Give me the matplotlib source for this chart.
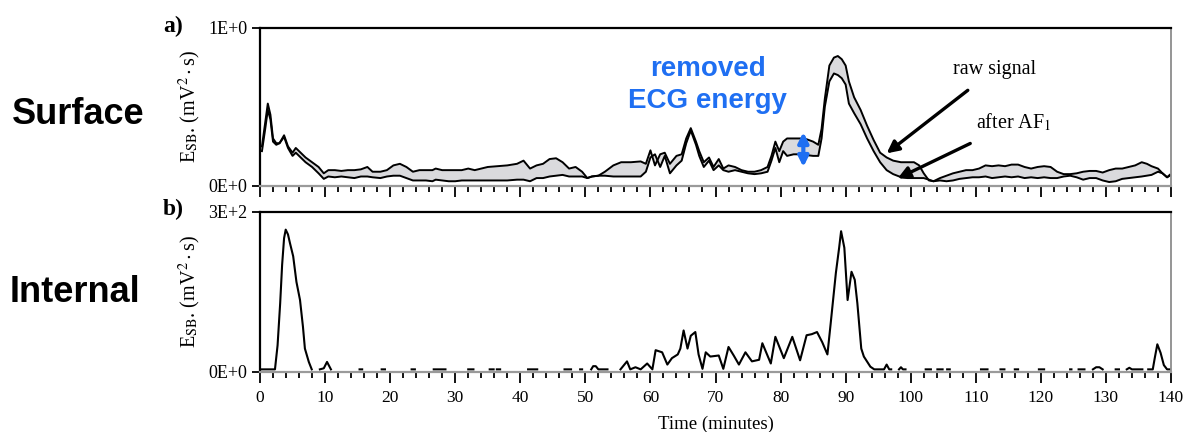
import numpy as np
import matplotlib
matplotlib.use("Agg")
import matplotlib.pyplot as plt
from matplotlib.ticker import MultipleLocator, FixedLocator

plt.rcParams['font.family'] = ['Liberation Serif', 'DejaVu Serif']
plt.rcParams['mathtext.fontset'] = 'stix'

nan = np.nan

# ---- surface ECG: sub-band energy before (raw) and after AF1 filtering ----
t_surf = [0.3, 0.8, 1.2, 1.6, 2.0, 2.5, 3.0, 3.7, 4.3, 5.0, 5.5, 6.0, 7.0, 8.0, 9.0, 9.8,
          10.5, 11.5, 12.5, 13.5, 14.5, 15.5, 16.5, 17.3, 18.5, 19.5, 20.5, 21.5, 22.5,
          23.5, 24.5, 25.5, 26.5, 27.0, 28.0, 29.0, 30.0, 31.0, 32.0, 33.0, 34.0, 35.0,
          36.5, 38.0, 39.5, 40.5, 41.5, 42.5, 43.5, 44.5, 45.5, 46.5, 47.5, 48.5, 49.5,
          50.3, 51.0, 52.0, 53.0, 54.3, 55.5, 57.0, 58.5, 59.3, 60.0, 60.7, 61.5, 62.2,
          63.0, 64.0, 64.8, 65.5, 66.2, 67.0, 67.5, 68.2, 69.0, 69.7, 70.5, 71.2, 72.0,
          73.0, 74.0, 75.0, 76.0, 77.0, 78.0, 78.6, 79.2, 79.8, 80.4, 81.0, 82.0, 83.0,
          84.0, 85.0, 85.8, 86.3, 86.8, 87.5, 88.2, 88.8, 89.4, 90.0, 90.5, 91.3, 92.3,
          93.3, 94.3, 95.3, 96.3, 97.3, 98.5, 99.5, 100.5, 101.3, 102.0, 102.8, 103.5,
          104.5, 105.5, 106.5, 107.5, 108.5, 109.5, 110.5, 111.5, 112.5, 113.5, 114.5,
          115.5, 116.5, 117.5, 118.5, 119.5, 120.5, 121.5, 122.5, 123.5, 124.5, 125.5,
          126.5, 127.5, 128.5, 129.5, 130.5, 131.5, 132.5, 133.5, 134.5, 135.5, 136.3,
          137.0, 138.0, 138.7, 139.4, 139.8]

raw_signal = [0.25, 0.40, 0.52, 0.45, 0.30, 0.27, 0.27, 0.32, 0.25, 0.21, 0.24, 0.22, 0.18,
              0.15, 0.12, 0.08, 0.10, 0.10, 0.095, 0.10, 0.10, 0.105, 0.12, 0.09, 0.09, 0.10,
              0.13, 0.14, 0.12, 0.09, 0.10, 0.10, 0.10, 0.11, 0.10, 0.10, 0.10, 0.10, 0.11,
              0.10, 0.11, 0.12, 0.125, 0.13, 0.14, 0.16, 0.11, 0.13, 0.14, 0.17, 0.175, 0.15,
              0.11, 0.12, 0.09, 0.05, 0.06, 0.065, 0.09, 0.13, 0.15, 0.15, 0.155, 0.14, 0.225,
              0.13, 0.20, 0.21, 0.14, 0.19, 0.20, 0.30, 0.365, 0.28, 0.22, 0.15, 0.18, 0.12,
              0.17, 0.11, 0.13, 0.12, 0.10, 0.09, 0.09, 0.10, 0.12, 0.19, 0.28, 0.22, 0.28,
              0.30, 0.30, 0.30, 0.295, 0.28, 0.26, 0.36, 0.55, 0.76, 0.81, 0.82, 0.80, 0.76,
              0.66, 0.56, 0.48, 0.38, 0.29, 0.21, 0.18, 0.16, 0.15, 0.15, 0.15, 0.13, 0.08,
              0.035, 0.03, 0.05, 0.065, 0.08, 0.09, 0.10, 0.10, 0.11, 0.13, 0.125, 0.13,
              0.125, 0.135, 0.135, 0.12, 0.11, 0.12, 0.125, 0.12, 0.09, 0.075, 0.075, 0.08,
              0.09, 0.095, 0.095, 0.085, 0.10, 0.11, 0.11, 0.12, 0.13, 0.15, 0.14, 0.125,
              0.11, 0.08, 0.055, 0.07]

after_af1 = [0.22, 0.36, 0.48, 0.42, 0.28, 0.26, 0.27, 0.31, 0.24, 0.19, 0.21, 0.19, 0.15,
             0.12, 0.08, 0.045, 0.06, 0.055, 0.06, 0.055, 0.05, 0.06, 0.06, 0.055, 0.05, 0.06,
             0.065, 0.065, 0.05, 0.035, 0.035, 0.035, 0.03, 0.04, 0.035, 0.03, 0.03, 0.035,
             0.035, 0.035, 0.035, 0.035, 0.035, 0.035, 0.04, 0.04, 0.03, 0.05, 0.05, 0.06,
             0.065, 0.07, 0.06, 0.06, 0.06, 0.05, 0.06, 0.065, 0.065, 0.06, 0.06, 0.06, 0.06,
             0.09, 0.18, 0.20, 0.12, 0.19, 0.08, 0.13, 0.16, 0.27, 0.35, 0.26, 0.19, 0.12,
             0.16, 0.10, 0.13, 0.10, 0.09, 0.10, 0.09, 0.08, 0.075, 0.08, 0.09, 0.16, 0.24,
             0.15, 0.22, 0.19, 0.20, 0.20, 0.195, 0.19, 0.19, 0.30, 0.50, 0.66, 0.71, 0.70,
             0.68, 0.64, 0.52, 0.46, 0.39, 0.30, 0.22, 0.15, 0.10, 0.075, 0.056, 0.05, 0.05,
             0.05, 0.05, 0.04, 0.03, 0.035, 0.03, 0.035, 0.045, 0.05, 0.055, 0.055, 0.06,
             0.05, 0.055, 0.06, 0.055, 0.06, 0.05, 0.055, 0.05, 0.055, 0.05, 0.05, 0.06,
             0.065, 0.055, 0.04, 0.05, 0.05, 0.035, 0.025, 0.03, 0.045, 0.05, 0.055, 0.06,
             0.065, 0.07, 0.09, 0.08, 0.055, 0.065]

# ---- internal (intracardiac) sub-band energy; NaN marks breaks in the trace ----
t_int = [0.2, 2.3, 2.7, 3.1, 3.4, 3.7, 3.95, 4.3, 4.6, 5.1, 5.6, 6.15, 6.6, 6.9, 7.5, 7.95, 8.0,
         9.2, 9.8, 10.3, 10.9, 11.0,
         15.3, 15.7, 15.8, 18.7, 19.2, 19.3, 23.3, 23.8, 23.9, 26.7, 28.5, 28.6,
         32.0, 32.8, 32.9, 35.3, 35.9, 36.0, 36.4, 36.9, 37.0, 41.2, 42.6, 42.7,
         46.8, 47.8, 47.9, 49.2, 49.5, 49.6,
         50.9, 51.2, 51.6, 52.0, 53.4, 53.5,
         55.4, 56.4, 56.9, 57.7, 58.5, 59.5, 60.3, 60.8, 61.8, 62.6, 63.3, 64.2, 64.6, 65.1,
         65.7, 66.2, 66.9, 67.4, 68.0, 68.5, 69.2, 70.5, 71.2, 72.0, 72.8, 73.6, 74.6, 75.6,
         76.7, 77.2, 78.5, 79.2, 80.5, 81.8, 83.0, 84.0, 84.8, 85.6, 86.4, 87.2, 87.7, 88.5,
         89.0, 89.3, 89.8, 90.3, 90.9, 91.4, 91.8, 92.4, 92.8, 93.8, 94.4, 95.9, 96.3, 96.7,
         97.0, 97.1,
         98.2, 98.5, 98.8, 99.2, 99.3,
         102.3, 103.1, 103.2, 104.1, 104.9, 105.0, 105.6, 106.0, 106.1,
         110.8, 111.8, 111.9, 113.8, 114.4, 114.5, 116.0, 116.5, 116.6, 119.7, 120.5, 120.6,
         124.5, 124.7, 124.8, 125.8, 126.7, 126.8, 128.0, 128.5, 129.0, 129.5, 129.6,
         131.5, 132.0, 132.1, 133.2, 133.6, 134.0, 135.6, 135.7,
         136.5, 137.2, 137.5, 137.9, 138.4, 138.9, 139.4, 139.8]

internal = [4, 4, 49, 128, 200, 250, 266, 257, 241, 216, 168, 134, 84, 43, 18, 4, nan,
            4, 6, 18, 4, nan,
            4, 4, nan, 4, 4, nan, 4, 4, nan, 4, 4, nan,
            4, 4, nan, 4, 4, nan, 4, 4, nan, 4, 4, nan,
            4, 4, nan, 4, 4, nan,
            4, 10, 10, 4, 4, nan,
            4, 19, 4, 8, 4, 15, 4, 40, 36, 13, 25, 32, 43, 77,
            43, 67, 74, 32, 5, 36, 28, 30, 5, 46, 30, 13, 36, 19,
            22, 53, 15, 65, 25, 65, 21, 68, 70, 74, 55, 32, 90, 185,
            232, 263, 232, 134, 187, 172, 128, 43, 28, 9, 4, 4, 13, 4,
            4, nan,
            4, 8, 4, 4, nan,
            4, 4, nan, 4, 4, nan, 4, 4, nan,
            4, 4, nan, 4, 4, nan, 4, 4, nan, 4, 4, nan,
            4, 4, nan, 4, 4, nan, 4, 8, 8, 4, nan,
            4, 4, nan, 4, 7, 4, 4, nan,
            4, 4, 25, 51, 35, 12, 4, 4]

x_major = list(range(0, 141, 10))
blue = '#1f6ff2'
sans = ['Liberation Sans', 'DejaVu Sans']

fig = plt.figure(figsize=(11.91, 4.32), dpi=100)
W, H = 1191.0, 432.0
ax1 = fig.add_axes([260 / W, 1 - 186 / H, 911 / W, 158.5 / H])
ax2 = fig.add_axes([260 / W, 1 - 371.5 / H, 911 / W, 160 / H])

# surface panel
ax1.fill_between(t_surf, after_af1, raw_signal, color='#dadadd', lw=0)
ax1.plot(t_surf, raw_signal, color='black', lw=1.4)
ax1.plot(t_surf, after_af1, color='black', lw=1.4)
ax1.set_ylim(0, 1)

# internal panel
ax2.plot(t_int, internal, color='black', lw=1.5)
ax2.set_ylim(0, 300)

for ax, top_lab in ((ax1, '1E+0'), (ax2, '3E+2')):
    ax.set_xlim(0, 140)
    ax.xaxis.set_major_locator(FixedLocator(x_major))
    ax.xaxis.set_minor_locator(MultipleLocator(2))
    ax.tick_params(axis='x', which='major', direction='out', length=8, width=1.3,
                   color='black', labelsize=12.5, pad=5)
    ax.tick_params(axis='x', which='minor', direction='out', length=4.5, width=1.3,
                   color='black')
    lo, hi = ax.get_ylim()
    ax.set_yticks([lo, hi])
    ax.set_yticklabels(['0E+0', top_lab])
    ax.tick_params(axis='y', direction='out', length=6, width=1.3, labelsize=13, pad=3)
    ax.spines['top'].set_linewidth(1.6)
    ax.spines['left'].set_linewidth(1.6)
    ax.spines['right'].set_linewidth(1.3)
    ax.spines['right'].set_color('#8c8c8c')
    ax.spines['bottom'].set_linewidth(1.6)
    ax.spines['bottom'].set_color('#9a9a9a')
    ax.set_ylabel(r'E$_{\rm SB}$. (mV$^{2}\cdot$s)', fontsize=14.5)
    ax.yaxis.set_label_coords(-0.063, 0.5)

ax1.tick_params(axis='x', labelbottom=False)
ax2.set_xlabel('Time (minutes)', fontsize=13.5, labelpad=7)

# annotations on the surface panel
ax1.text(68.8, 0.64, 'removed\nECG energy', color=blue, fontsize=20, fontweight='bold',
         family=sans, ha='center', va='center', linespacing=1.3)
ax1.annotate('', xy=(83.5, 0.12), xytext=(83.5, 0.34),
             arrowprops=dict(arrowstyle='<|-|>', color=blue, lw=3,
                             mutation_scale=15, shrinkA=0, shrinkB=0))
ax1.annotate('raw signal', xy=(96.3, 0.206), xytext=(106.5, 0.735),
             fontsize=14.5, ha='left', va='center',
             arrowprops=dict(arrowstyle='-|>', color='black', lw=2.4,
                             mutation_scale=18, shrinkA=10, shrinkB=0))
ax1.annotate(r'after AF$_1$', xy=(98.0, 0.048), xytext=(110.0, 0.40),
             fontsize=14.5, ha='left', va='center',
             arrowprops=dict(arrowstyle='-|>', color='black', lw=2.4,
                             mutation_scale=18, shrinkA=12, shrinkB=0))

# panel letters and row titles
fig.text(163 / W, 1 - 26 / H, 'a)', fontsize=17, fontweight='bold', ha='left', va='center')
fig.text(163 / W, 1 - 209 / H, 'b)', fontsize=17, fontweight='bold', ha='left', va='center')
fig.text(78 / W, 1 - 115 / H, 'Surface', fontsize=26, fontweight='bold',
         family=sans, ha='center', va='center')
fig.text(75 / W, 1 - 293 / H, 'Internal', fontsize=26, fontweight='bold',
         family=sans, ha='center', va='center')

fig.savefig('out.png', dpi=100, facecolor='white')
